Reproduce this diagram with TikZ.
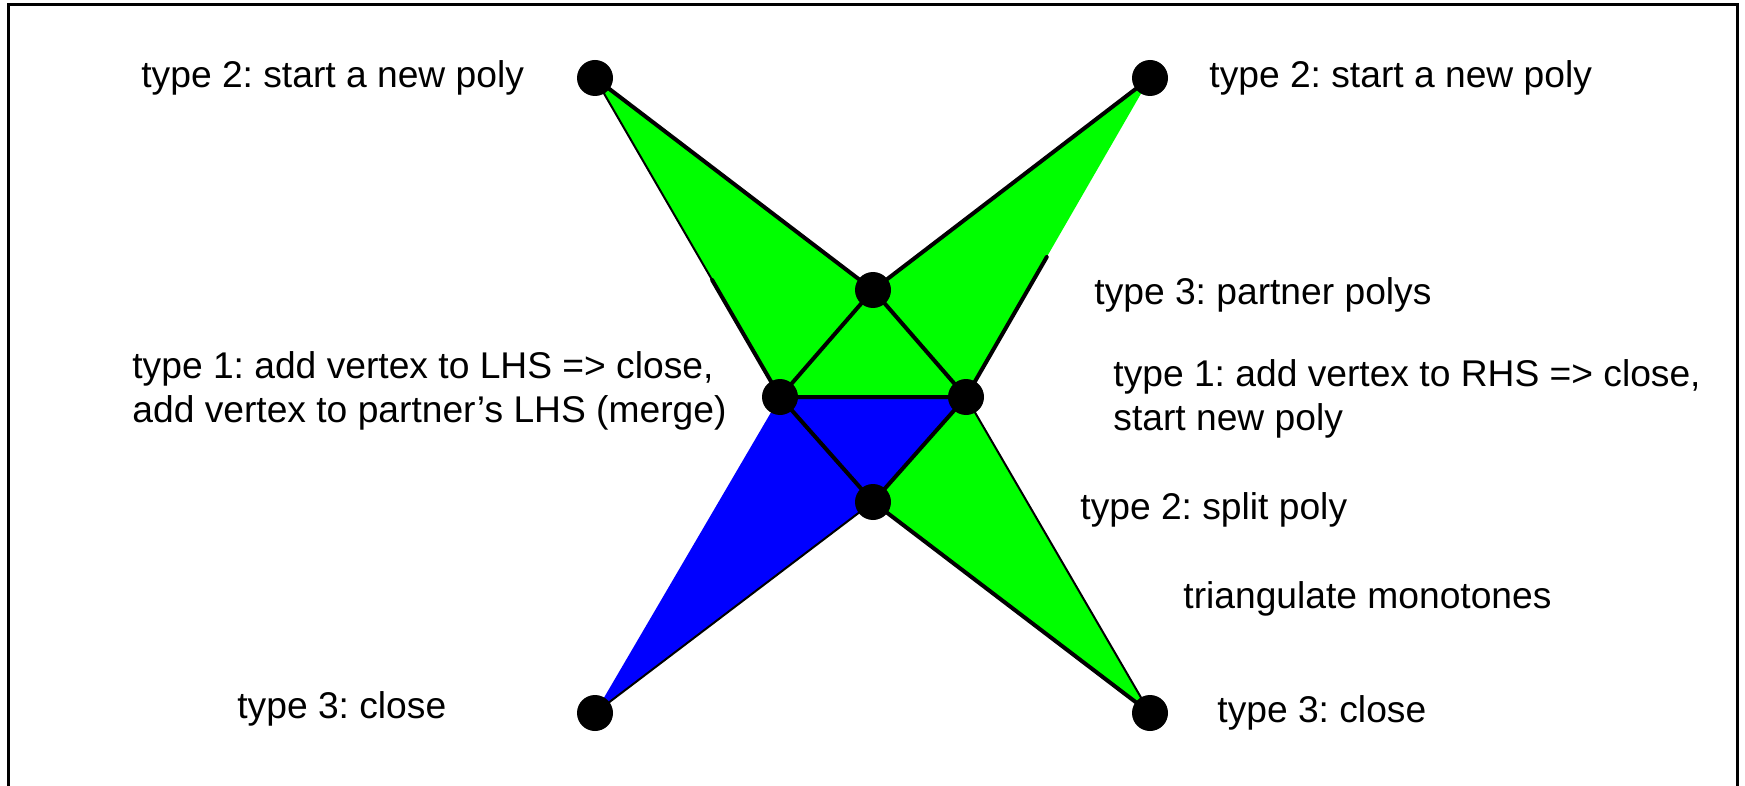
\documentclass[tikz,border=0pt]{standalone}
\usepackage{fontspec}
\setmainfont{Liberation Sans}
\usepackage{xcolor}
\usetikzlibrary{calc}
\definecolor{polygreen}{RGB}{0,255,0}
\definecolor{polyblue}{RGB}{0,0,255}
\frenchspacing

\begin{document}
\begin{tikzpicture}[x=0.5pt, y=-0.5pt,
  font=\fontsize{18.6}{22}\selectfont,
  vertex/.style={circle, fill=black, inner sep=0pt, minimum size=18pt},
  edge/.style={line width=2pt, line cap=round},
  thinedge/.style={line width=1pt},
  lbl/.style={anchor=west, inner sep=0pt, align=left}]
\useasboundingbox (0,0) rectangle (1745,786);
\draw[line width=1.5pt] (8,786) -- (8,5) -- (1737,5) -- (1737,786);
% vertices
\coordinate (tl) at (595,78);
\coordinate (tr) at (1150,78);
\coordinate (tc) at (873,290);
\coordinate (lm) at (780,397);
\coordinate (rm) at (966,397);
\coordinate (bc) at (873,502);
\coordinate (bl) at (595,713);
\coordinate (br) at (1150,713);
\coordinate (tlm) at ($(tl)!0.633!(lm)$);
\coordinate (trm) at ($(tr)!0.561!(rm)$);
% faces
\fill[polygreen] (tl) -- (tc) -- (tr) -- (rm) -- (lm) -- cycle;
\fill[polyblue] (lm) -- (rm) -- (bc) -- (bl) -- cycle;
\fill[polygreen] (rm) -- (br) -- (bc) -- cycle;
% edges
\draw[edge] (tl) -- (tc) -- (tr);
\draw[edge] (trm) -- (rm) -- (lm) -- (tlm);
\draw[thinedge] (tl) -- (tlm);
\draw[edge] (lm) -- (tc) -- (rm);
\draw[edge] (lm) -- (bc) -- (rm);
\draw[edge] (bc) -- (br);
\draw[thinedge] (rm) -- (br);
\draw[thinedge] (bl) -- (bc);
\foreach \v in {tl,tr,tc,lm,rm,bc,bl,br}
  \node[vertex] (\v-dot) at (\v) {};
% labels
\node[lbl] (tl-txt) at (141,78) {type 2: start a new poly};
\node[lbl] (tr-txt) at (1209,78) {type 2: start a new poly};
\node[lbl] (tc-txt) at (1094,295) {type 3: partner polys};
\node[lbl] (lm-txt) at (132,391) {type 1: add vertex to LHS => close,\\add vertex to partner’s LHS (merge)};
\node[lbl] (rm-txt) at (1113,399) {type 1: add vertex to RHS => close,\\start new poly};
\node[lbl] (bc-txt) at (1080,510) {type 2: split poly};
\node[lbl] (mono-txt) at (1183,599) {triangulate monotones};
\node[lbl] (bl-txt) at (237,709) {type 3: close};
\node[lbl] (br-txt) at (1217,713) {type 3: close};
\end{tikzpicture}
\end{document}
